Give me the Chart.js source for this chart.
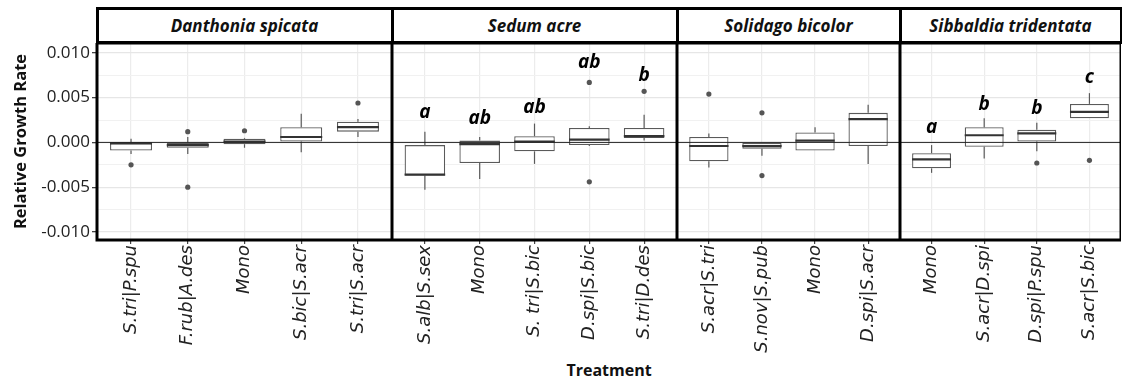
<!DOCTYPE html>
<html>
<head>
<meta charset="utf-8">
<script src="https://cdn.jsdelivr.net/npm/chart.js@4"></script>
<style>
  body { margin: 0; background: #fff; width: 1122px; height: 381px; overflow: hidden; position: relative; font-family: 'Open Sans', sans-serif; }
  .panel { position: absolute; top: 43px; height: 338px; }
  .strip { position: absolute; top: 7px; height: 37px; box-sizing: border-box; border: 3px solid #000; background: #fff;
           font: italic bold 17px 'Open Sans'; color: #111; display: flex; align-items: center; justify-content: center; }
  #xtitle { position: absolute; top: 359px; left: 97px; width: 1024px; text-align: center; font: bold 16px 'Open Sans'; color: #111; }
</style>
</head>
<body>
<div id="xtitle">Treatment</div>

<script>
// facet titles
const panelTitles = ['Danthonia spicata', 'Sedum acre', 'Solidago bicolor', 'Sibbaldia tridentata'];

// one entry per box, in plotting order
const treatments = [
    'S.tri|P.spu', 'F.rub|A.des', 'Mono', 'S.bic|S.acr', 'S.tri|S.acr',
    'S.alb|S.sex', 'Mono', 'S. tri|S.bic', 'D.spi|S.bic', 'S.tri|D.des',
    'S.acr|S.tri', 'S.nov|S.pub', 'Mono', 'D.spi|S.acr',
    'Mono', 'S.acr|D.spi', 'D.spi|P.spu', 'S.acr|S.bic'
];
const panelOf = [0, 0, 0, 0, 0, 1, 1, 1, 1, 1, 2, 2, 2, 2, 3, 3, 3, 3];

const lowerWhisker = [-0.0013, -0.0013, -0.0006, -0.0011, 0.0006,
                      -0.0053, -0.0041, -0.0024, -0.0004, 0.0002,
                      -0.0028, -0.0015, -0.0009, -0.0024,
                      -0.0034, -0.0018, -0.0010, 0.0027];
const q1 = [-0.0009, -0.0006, -0.0002, 0.0001, 0.0012,
            -0.0037, -0.0023, -0.0010, -0.0003, 0.0005,
            -0.0021, -0.0007, -0.0009, -0.0004,
            -0.0029, -0.0005, 0.0001, 0.0027];
const median = [-0.0001, -0.0003, 0.0001, 0.0006, 0.0017,
                -0.0036, -0.0002, 0.0001, 0.0003, 0.0007,
                -0.0004, -0.0004, 0.0002, 0.0026,
                -0.0019, 0.0008, 0.0010, 0.0034];
const q3 = [0.0000, 0.0000, 0.0004, 0.0017, 0.0023,
            -0.0003, 0.0002, 0.0007, 0.0016, 0.0016,
            0.0006, 0.0000, 0.0011, 0.0033,
            -0.0012, 0.0017, 0.0014, 0.0043];
const upperWhisker = [0.0004, 0.0006, 0.0005, 0.0032, 0.0026,
                      0.0012, 0.0006, 0.0021, 0.0018, 0.0031,
                      0.0010, 0.0000, 0.0017, 0.0042,
                      -0.0003, 0.0027, 0.0022, 0.0055];
const outliers = [[-0.0025], [0.0012, -0.0050], [0.0013], [], [0.0044],
                  [], [], [], [0.0067, -0.0044], [0.0057],
                  [0.0054], [0.0033, -0.0037], [], [],
                  [], [], [-0.0023], [-0.0020]];

// significance letters and the height they sit at
const letters = ['', '', '', '', '',
                 'a', 'ab', 'ab', 'ab', 'b',
                 '', '', '', '',
                 'a', 'b', 'b', 'c'];
const letterY = [0, 0, 0, 0, 0,
                 0.0033, 0.0027, 0.0039, 0.0089, 0.0075,
                 0, 0, 0, 0,
                 0.0017, 0.0042, 0.0038, 0.0072];

// y axis
const yMin = -0.0109, yMax = 0.0111;
const yTickValues = [-0.010, -0.0075, -0.005, -0.0025, 0, 0.0025, 0.005, 0.0075, 0.010];
const yTickLabels = ['-0.010', '', '-0.005', '', '0.000', '', '0.005', '', '0.010'];

// panel borders in page pixels (layout only)
const panelEdges = [97, 392, 677, 900, 1121];

function line(ctx, x1, y1, x2, y2) {
    ctx.beginPath();
    ctx.moveTo(x1, y1);
    ctx.lineTo(x2, y2);
    ctx.stroke();
}

function boxPartsPlugin(idx) {
    return {
        id: 'boxParts',
        afterDatasetsDraw(chart) {
            const {ctx, chartArea, scales: {y}} = chart;
            const bars = chart.getDatasetMeta(0).data;
            ctx.save();
            idx.forEach((k, i) => {
                const bar = bars[i];
                const cx = bar.x, half = bar.width / 2;
                ctx.strokeStyle = '#5a5a5a';
                ctx.lineWidth = 1.2;
                line(ctx, cx, y.getPixelForValue(q3[k]), cx, y.getPixelForValue(upperWhisker[k]));
                line(ctx, cx, y.getPixelForValue(q1[k]), cx, y.getPixelForValue(lowerWhisker[k]));
                ctx.strokeStyle = '#333';
                ctx.lineWidth = 2.2;
                const ym = y.getPixelForValue(median[k]);
                line(ctx, cx - half, ym, cx + half, ym);
            });
            // zero reference line
            ctx.strokeStyle = '#222';
            ctx.lineWidth = 1;
            const y0 = y.getPixelForValue(0);
            line(ctx, chartArea.left, y0, chartArea.right, y0);
            // letters
            ctx.fillStyle = '#000';
            ctx.font = 'italic bold 19px "Open Sans"';
            ctx.textAlign = 'center';
            ctx.textBaseline = 'middle';
            idx.forEach((k, i) => {
                if (letters[k]) ctx.fillText(letters[k], bars[i].x, y.getPixelForValue(letterY[k]));
            });
            ctx.restore();
        },
        afterDraw(chart) {
            const {ctx, chartArea} = chart;
            ctx.save();
            ctx.strokeStyle = '#000';
            ctx.lineWidth = 3;
            ctx.strokeRect(chartArea.left, chartArea.top, chartArea.right - chartArea.left, chartArea.bottom - chartArea.top);
            ctx.restore();
        }
    };
}

function makePanel(p) {
    const idx = [];
    panelOf.forEach((v, k) => { if (v === p) idx.push(k); });
    const labels = idx.map(k => treatments[k]);
    const first = p === 0;

    const left = first ? 0 : panelEdges[p];
    const width = panelEdges[p + 1] - left;

    const div = document.createElement('div');
    div.className = 'panel';
    div.style.left = left + 'px';
    div.style.width = width + 'px';
    const canvas = document.createElement('canvas');
    div.appendChild(canvas);
    document.body.appendChild(div);

    const strip = document.createElement('div');
    strip.className = 'strip';
    strip.style.left = (panelEdges[p] - 1.5) + 'px';
    strip.style.width = (panelEdges[p + 1] - panelEdges[p] + 3) + 'px';
    strip.textContent = panelTitles[p];
    document.body.appendChild(strip);

    const boxData = idx.map((k, i) => ({x: i, y: [q1[k], q3[k]]}));
    const outlierData = [];
    idx.forEach((k, i) => outliers[k].forEach(o => outlierData.push({x: i, y: o})));

    new Chart(canvas, {
        type: 'bar',
        data: {
            datasets: [{
                data: boxData,
                backgroundColor: '#fff',
                borderColor: '#5a5a5a',
                borderWidth: 1.3,
                borderSkipped: false,
                barPercentage: 0.74,
                categoryPercentage: 1
            }, {
                type: 'scatter',
                data: outlierData,
                pointRadius: 2.6,
                backgroundColor: '#555',
                borderWidth: 0
            }]
        },
        options: {
            animation: false,
            responsive: true,
            maintainAspectRatio: false,
            events: [],
            layout: { padding: 0, autoPadding: false },
            plugins: { legend: { display: false }, tooltip: { enabled: false } },
            scales: {
                x: {
                    type: 'linear',
                    offset: false,
                    min: -0.6,
                    max: labels.length - 0.4,
                    afterBuildTicks: s => { s.ticks = labels.map((_, i) => ({value: i})); },
                    afterFit: s => { s.height = 141; s.paddingLeft = 0; s.paddingRight = 0; },
                    grid: { offset: false, color: '#ececec', lineWidth: 1.2, tickLength: 4, tickColor: '#444' },
                    border: { display: false },
                    ticks: {
                        autoSkip: false,
                        minRotation: 90,
                        maxRotation: 90,
                        padding: 1,
                        color: '#222',
                        font: { family: 'DejaVu Sans', size: 18, style: 'italic' },
                        callback: v => labels[v]
                    }
                },
                y: {
                    min: yMin,
                    max: yMax,
                    afterBuildTicks: s => { s.ticks = yTickValues.map(v => ({value: v})); },
                    afterFit: s => { s.width = first ? 97 : 0; s.paddingTop = 0; s.paddingBottom = 0; },
                    grid: {
                        color: c => c.index % 2 ? '#f1f1f1' : '#e6e6e6',
                        lineWidth: c => c.index % 2 ? 1 : 1.3,
                        drawTicks: first,
                        tickLength: 5,
                        tickColor: c => c.index % 2 ? 'rgba(0,0,0,0)' : '#444'
                    },
                    border: { display: false },
                    title: {
                        display: first,
                        text: 'Relative Growth Rate',
                        color: '#111',
                        padding: { top: 11, bottom: 0 },
                        font: { family: 'Open Sans', size: 16.5, weight: 'bold' }
                    },
                    ticks: {
                        display: first,
                        padding: 2,
                        color: '#222',
                        font: { family: 'Open Sans', size: 17 },
                        callback: (v, i) => yTickLabels[i]
                    }
                }
            }
        },
        plugins: [boxPartsPlugin(idx)]
    });
}

for (let p = 0; p < panelTitles.length; p++) makePanel(p);
</script>
</body>
</html>
